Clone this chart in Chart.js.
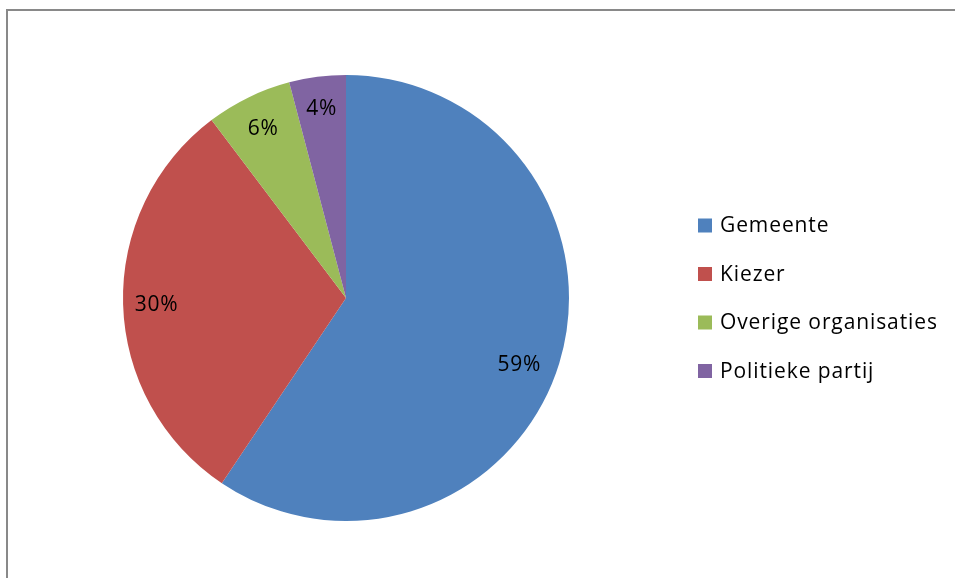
<!DOCTYPE html>
<html>
<head>
<meta charset="utf-8">
<script src="https://cdn.jsdelivr.net/npm/chart.js@4"></script>
<style>
  html, body { margin: 0; padding: 0; background: #ffffff; }
  #wrap { position: relative; width: 955px; height: 578px; }
</style>
</head>
<body>
<div id="wrap"><canvas id="c" width="955" height="578"></canvas></div>
<script>
const categories = ["Gemeente", "Kiezer", "Overige organisaties", "Politieke partij"];
const shares = [59.4, 30.3, 6.2, 4.1];
const sliceColors = ["#4F81BD", "#C0504D", "#9BBB59", "#8064A2"];

const FONT = "'Open Sans', 'Liberation Sans', sans-serif";
const FONT_SIZE = 21;

const framePlugin = {
  id: "frame",
  beforeDraw(chart) {
    const ctx = chart.ctx;
    ctx.save();
    ctx.fillStyle = "#ffffff";
    ctx.fillRect(0, 0, chart.width, chart.height);
    ctx.strokeStyle = "#898989";
    ctx.lineWidth = 2;
    ctx.beginPath();
    ctx.moveTo(7, chart.height);
    ctx.lineTo(7, 10);
    ctx.lineTo(chart.width, 10);
    ctx.stroke();
    ctx.restore();
  }
};

const labelPlugin = {
  id: "sliceLabels",
  afterDatasetsDraw(chart, args, opts) {
    const ctx = chart.ctx;
    const meta = chart.getDatasetMeta(0);
    const data = chart.data.datasets[0].data;
    const total = data.reduce((a, b) => a + b, 0);
    const nudges = opts.nudges || [];
    ctx.save();
    ctx.font = FONT_SIZE + "px " + FONT;
    if ("letterSpacing" in ctx) ctx.letterSpacing = "0.8px";
    ctx.fillStyle = "#000000";
    ctx.textAlign = "center";
    ctx.textBaseline = "alphabetic";
    meta.data.forEach((arc, i) => {
      const p = arc.getProps(["x", "y", "startAngle", "endAngle", "outerRadius"], true);
      const mid = (p.startAngle + p.endAngle) / 2;
      const r = p.outerRadius * 0.85;
      const n = nudges[i] || [0, 0];
      const txt = Math.round(data[i] / total * 100) + "%";
      ctx.fillText(txt, p.x + Math.cos(mid) * r + n[0], p.y + Math.sin(mid) * r + n[1] + 7.5);
    });
    ctx.restore();
  }
};

const legendPlugin = {
  id: "sideLegend",
  afterDraw(chart) {
    const ctx = chart.ctx;
    const labels = chart.data.labels;
    const colors = chart.data.datasets[0].backgroundColor;
    ctx.save();
    ctx.font = FONT_SIZE + "px " + FONT;
    if ("letterSpacing" in ctx) ctx.letterSpacing = "0.9px";
    ctx.textAlign = "left";
    ctx.textBaseline = "alphabetic";
    labels.forEach((lab, i) => {
      const base = 232 + i * 48.5;
      ctx.fillStyle = colors[i];
      ctx.fillRect(698, base - 13.5, 14, 14);
      ctx.fillStyle = "#000000";
      ctx.fillText(lab, 720, base);
    });
    ctx.restore();
  }
};

new Chart(document.getElementById("c"), {
  type: "pie",
  data: {
    labels: categories,
    datasets: [{
      data: shares,
      backgroundColor: sliceColors,
      borderWidth: 0
    }]
  },
  options: {
    responsive: false,
    animation: false,
    layout: { padding: { left: 123, top: 75, right: 386, bottom: 57 } },
    plugins: {
      legend: { display: false },
      tooltip: { enabled: false },
      sliceLabels: { nudges: [[-8, 10], [0, 0], [0, 0], [0, -3]] }
    }
  },
  plugins: [framePlugin, labelPlugin, legendPlugin]
});
</script>
</body>
</html>
